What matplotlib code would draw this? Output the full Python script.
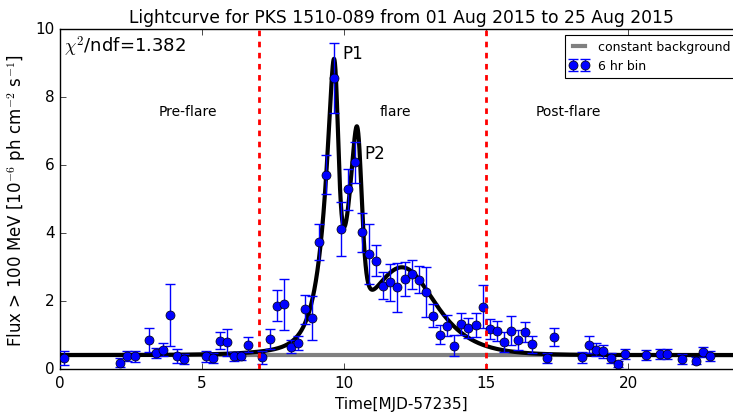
import numpy as np
import matplotlib
matplotlib.use("Agg")
import matplotlib.pyplot as plt

plt.style.use("classic")

# ---- data (6 hr bins) ----
time = [0.125, 2.125, 2.375, 2.625, 3.125, 3.375, 3.625, 3.875, 4.125, 4.375,
        5.125, 5.375, 5.625, 5.875, 6.125, 6.375, 6.625, 7.125, 7.375, 7.625,
        7.875, 8.125, 8.375, 8.625, 8.875, 9.125, 9.375, 9.625, 9.875, 10.125,
        10.375, 10.625, 10.875, 11.125, 11.375, 11.625, 11.875, 12.125, 12.375, 12.625,
        12.875, 13.125, 13.375, 13.625, 13.875, 14.125, 14.375, 14.625, 14.875, 15.125,
        15.375, 15.625, 15.875, 16.125, 16.375, 16.625, 17.125, 17.375, 18.375, 18.625,
        18.875, 19.125, 19.375, 19.625, 19.875, 20.625, 21.125, 21.375, 21.875, 22.375,
        22.625, 22.875]
flux = [0.33, 0.19, 0.39, 0.37, 0.86, 0.47, 0.57, 1.59, 0.39, 0.30,
        0.37, 0.32, 0.83, 0.78, 0.37, 0.38, 0.72, 0.34, 0.88, 1.86,
        1.91, 0.66, 0.76, 1.76, 1.50, 3.73, 5.71, 8.56, 4.12, 5.29,
        6.08, 4.02, 3.38, 3.19, 2.45, 2.55, 2.40, 2.65, 2.79, 2.63,
        2.27, 1.57, 1.01, 1.27, 0.69, 1.32, 1.21, 1.30, 1.83, 1.18,
        1.11, 0.80, 1.13, 0.86, 1.08, 0.73, 0.32, 0.95, 0.34, 0.71,
        0.57, 0.52, 0.32, 0.15, 0.44, 0.41, 0.44, 0.44, 0.29, 0.24,
        0.49, 0.39]
flux_err = [0.20, 0.12, 0.15, 0.15, 0.35, 0.15, 0.20, 0.90, 0.20, 0.15,
            0.15, 0.15, 0.25, 0.40, 0.12, 0.12, 0.22, 0.20, 0.30, 0.45,
            0.75, 0.20, 0.20, 0.43, 0.65, 0.53, 0.57, 1.03, 0.80, 0.60,
            0.60, 0.58, 0.88, 0.45, 0.40, 0.55, 0.73, 0.50, 0.43, 0.40,
            0.74, 0.34, 0.28, 0.31, 0.32, 0.33, 0.30, 0.35, 0.63, 0.30,
            0.30, 0.30, 0.43, 0.30, 0.30, 0.25, 0.15, 0.27, 0.15, 0.25,
            0.20, 0.20, 0.15, 0.10, 0.15, 0.15, 0.15, 0.15, 0.15, 0.10,
            0.15, 0.15]

# ---- fit model parameters (constant + exponential flares) ----
background = 0.41
flare_t0 = [9.73, 10.55, 12.2]
flare_F = [5.85, 4.5, 2.55]
flare_Tr = [0.36, 0.40, 1.3]
flare_Td = [0.09, 0.10, 0.95]

chi2_text = r"$\chi^2$/ndf=1.382"
period_edges = [7, 15]

fig = plt.figure(figsize=(7.33, 4.14), dpi=100, facecolor="white")
ax = fig.add_axes([60 / 733, 44 / 414, 682 / 733, 340 / 414])
ax.set_facecolor("white")

tt = np.linspace(0, 24, 4000)
model = np.full_like(tt, background)
for t0, F, tr, td in zip(flare_t0, flare_F, flare_Tr, flare_Td):
    model += 2 * F / (np.exp((t0 - tt) / tr) + np.exp((tt - t0) / td))

ax.plot([0, 24], [background, background], color="gray", lw=3, label="constant background", zorder=2)
ax.plot(tt, model, color="black", lw=3, zorder=3)
ax.errorbar(time, flux, yerr=flux_err, fmt="o", color="blue", mfc="blue", mec="black",
            ms=6.5, ecolor="blue", elinewidth=1, capsize=3.3, capthick=1, label="6 hr bin", zorder=4)

for xe in period_edges:
    ax.axvline(xe, color="red", ls="--", lw=2, dashes=(4, 4), zorder=5)

ax.text(4.5, 7.6, "Pre-flare", ha="center", va="center", fontsize=10)
ax.text(11.8, 7.6, "flare", ha="center", va="center", fontsize=10)
ax.text(17.9, 7.6, "Post-flare", ha="center", va="center", fontsize=10)
ax.text(9.92, 9.02, "P1", ha="left", va="bottom", fontsize=12)
ax.text(10.7, 6.1, "P2", ha="left", va="bottom", fontsize=12)
ax.text(0.15, 9.5, chi2_text, ha="left", va="center", fontsize=13)

ax.set_xlim(0, 24)
ax.set_ylim(0, 10)
ax.set_xticks([0, 5, 10, 15, 20])
ax.set_yticks([0, 2, 4, 6, 8, 10])
ax.tick_params(labelsize=11)
ax.set_xlabel("Time[MJD-57235]", fontsize=11)
ax.set_ylabel(r"Flux > 100 MeV [10$^{-6}$ ph cm$^{-2}$ s$^{-1}$]", fontsize=12)
ax.set_title("Lightcurve for PKS 1510-089 from 01 Aug 2015 to 25 Aug 2015", fontsize=12.3)

leg = ax.legend(loc="upper right", fontsize=9, numpoints=2, borderaxespad=0.5, handlelength=1.5)
leg.get_frame().set_linewidth(0.8)

fig.savefig("out.png", dpi=100, facecolor="white")
